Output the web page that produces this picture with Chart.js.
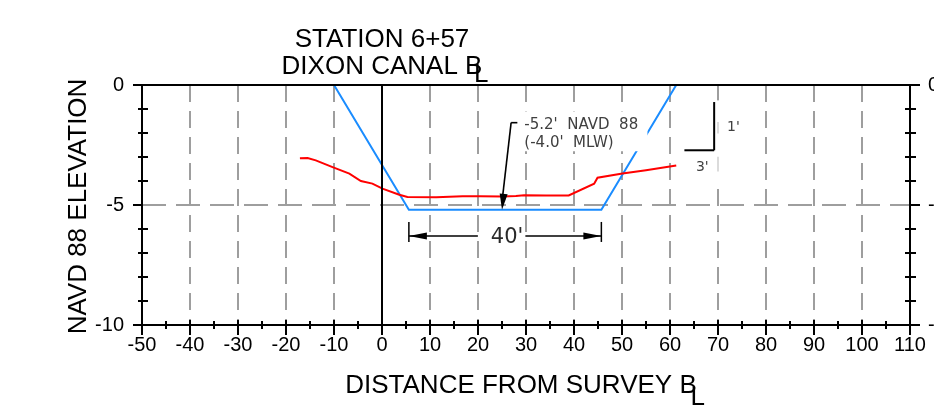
<!DOCTYPE html>
<html>
<head>
<meta charset="utf-8">
<script src="https://cdn.jsdelivr.net/npm/chart.js@4.4.0/dist/chart.umd.min.js"></script>
<style>
    html, body { margin: 0; padding: 0; background: #fff; }
    #wrap { width: 934px; height: 407px; }
</style>
</head>
<body>
<div id="wrap"><canvas id="section" width="934" height="407"></canvas></div>
<script>
// Cross section, station 6+57, Dixon Canal

// existing ground (red)
const groundX = [-17.1, -15.5, -13.8, -10.3, -6.8, -4.4, -2.0, 0.1, 3.6, 5.3, 11.3, 16.8, 20.4, 25.1, 27.9, 29.6, 34.2, 38.9, 44.2, 44.9, 50.1, 55.0, 61.3];
const groundY = [-3.05, -3.04, -3.14, -3.42, -3.69, -4.00, -4.11, -4.32, -4.57, -4.67, -4.68, -4.64, -4.64, -4.65, -4.62, -4.59, -4.60, -4.60, -4.11, -3.86, -3.69, -3.55, -3.35];

// design channel (blue), 40' bottom at -5.2, 3:1 side slopes
const designX = [-10.0, 5.6, 45.7, 61.3];
const designY = [0, -5.2, -5.2, 0];

// tick labels
const xLabels = [-50, -40, -30, -20, -10, 0, 10, 20, 30, 40, 50, 60, 70, 80, 90, 100, 110];
const yLabels = [0, -5, -10];

// texts
const titleLines = ['STATION 6+57', 'DIXON CANAL '];
const xTitle = 'DISTANCE FROM SURVEY ';
const yTitle = 'NAVD 88 ELEVATION';
const noteLines = ["-5.2'  NAVD  88", "(-4.0'  MLW)"];
const bottomElev = -5.2;
const noteAt = 25;
const widthLabel = "40'";
const slopeLabels = ["1'", "3'"];

const FONT = '"Liberation Sans", Arial, sans-serif';
const NOTE_FONT = '"DejaVu Sans", sans-serif';
const gridGray = '#9e9e9e';
const clear = 'rgba(0,0,0,0)';

function line(ctx, x1, y1, x2, y2) {
    ctx.beginPath();
    ctx.moveTo(x1, y1);
    ctx.lineTo(x2, y2);
    ctx.stroke();
}

function arrowHead(ctx, tipX, tipY, fromX, fromY, len, half) {
    const a = Math.atan2(tipY - fromY, tipX - fromX);
    const bx = tipX - len * Math.cos(a);
    const by = tipY - len * Math.sin(a);
    ctx.beginPath();
    ctx.moveTo(tipX, tipY);
    ctx.lineTo(bx + half * Math.sin(a), by - half * Math.cos(a));
    ctx.lineTo(bx - half * Math.sin(a), by + half * Math.cos(a));
    ctx.closePath();
    ctx.fill();
}

// centreline mark: a B with an L laid over it
function clMark(ctx, x, y, dx, dy) {
    ctx.textAlign = 'left';
    ctx.fillText('B', x, y);
    ctx.fillText('L', x + dx, y + dy);
}

const sectionFrame = {
    id: 'sectionFrame',
    afterDatasetsDraw(chart) {
        const { ctx, chartArea: a } = chart;
        const x = chart.scales.x;
        const y = chart.scales.y;
        const px = v => x.getPixelForValue(v);
        const py = v => y.getPixelForValue(v);
        ctx.save();

        // knock-outs behind the notes
        ctx.fillStyle = '#fff';
        ctx.fillRect(px(28.6), py(-1.10), px(55.3) - px(28.6), py(-2.76) - py(-1.10));
        ctx.fillRect(px(69.4), py(-0.64), px(70.7) - px(69.4), py(-4.05) - py(-0.64));
        ctx.strokeStyle = '#cfcfcf';
        ctx.lineWidth = 1.5;
        line(ctx, px(70), py(-1.54), px(70), py(-2.02));
        line(ctx, px(70), py(-2.99), px(70), py(-3.6));

        // frame, centreline and ticks
        ctx.strokeStyle = '#000';
        ctx.lineWidth = 2;
        line(ctx, a.left - 9, a.top, a.right + 10, a.top);
        line(ctx, a.left - 9, a.bottom, a.right + 10, a.bottom);
        line(ctx, a.left, a.top, a.left, a.bottom);
        line(ctx, a.right, a.top, a.right, a.bottom);
        line(ctx, px(0), a.top, px(0), a.bottom + 10);
        y.ticks.forEach(t => {
            const p = py(t.value);
            if (t.value % 5 === 0) {
                line(ctx, a.left - 9, p, a.left, p);
                line(ctx, a.right, p, a.right + 10, p);
            } else {
                line(ctx, a.left - 4, p, a.left + 6, p);
                line(ctx, a.right - 5, p, a.right + 6, p);
            }
        });
        x.ticks.forEach(t => {
            const p = px(t.value);
            if (t.value % 10 === 0) line(ctx, p, a.bottom - 5, p, a.bottom + 10);
            else line(ctx, p, a.bottom - 4, p, a.bottom + 4);
        });

        // leader to channel bottom
        const tipX = px(noteAt), tipY = py(bottomElev);
        const topX = px(26.9), topY = py(-1.57);
        ctx.lineWidth = 1.6;
        line(ctx, topX, topY, px(28.2), topY);
        line(ctx, topX, topY, tipX, tipY - 8);
        ctx.fillStyle = '#000';
        arrowHead(ctx, tipX, tipY, topX, topY, 16, 4);

        ctx.fillStyle = '#404040';
        ctx.font = '15px ' + NOTE_FONT;
        ctx.textAlign = 'left';
        ctx.textBaseline = 'alphabetic';
        ctx.fillText(noteLines[0], px(29.65), py(-1.82));
        ctx.fillText(noteLines[1], px(29.65), py(-2.58));

        // bottom width dimension
        const dy = py(-6.29);
        const dl = px(designX[1]), dr = px(designX[2]);
        ctx.strokeStyle = '#000';
        ctx.lineWidth = 1.5;
        line(ctx, dl, dy - 14, dl, dy + 6);
        line(ctx, dr, dy - 14, dr, dy + 6);
        ctx.font = '21px ' + NOTE_FONT;
        const tw = ctx.measureText(widthLabel).width;
        const tx = (dl + dr) / 2 + 2 - tw / 2;
        line(ctx, dl, dy, tx - 13, dy);
        line(ctx, tx + tw + 2, dy, dr, dy);
        ctx.fillStyle = '#000';
        arrowHead(ctx, dl, dy, dr, dy, 18, 3.5);
        arrowHead(ctx, dr, dy, dl, dy, 18, 3.5);
        ctx.fillStyle = '#2a2a2a';
        ctx.fillText(widthLabel, tx, dy + 7);

        // slope symbol
        ctx.strokeStyle = '#000';
        ctx.lineWidth = 2;
        line(ctx, px(69.2), py(-0.71), px(69.2), py(-2.72));
        line(ctx, px(63.0), py(-2.72), px(69.2), py(-2.72));
        ctx.fillStyle = '#404040';
        ctx.font = '14px ' + NOTE_FONT;
        ctx.textBaseline = 'middle';
        ctx.fillText(slopeLabels[0], px(71.9), py(-1.75));
        ctx.fillText(slopeLabels[1], px(65.4), py(-3.42));

        // titles
        ctx.fillStyle = '#000';
        ctx.textBaseline = 'alphabetic';
        ctx.font = '26px ' + FONT;
        ctx.textAlign = 'center';
        ctx.fillText(titleLines[0], px(0), a.top - 38);
        const w2 = ctx.measureText(titleLines[1] + 'B').width;
        const s2 = px(0) - w2 / 2;
        ctx.textAlign = 'left';
        ctx.fillText(titleLines[1], s2, a.top - 10.7);
        clMark(ctx, s2 + ctx.measureText(titleLines[1]).width, a.top - 10.7, 9, 8);

        const w3 = ctx.measureText(xTitle + 'B').width;
        const s3 = 521 - w3 / 2;
        ctx.fillText(xTitle, s3, 393.3);
        clMark(ctx, s3 + ctx.measureText(xTitle).width, 393.3, 11, 12);

        ctx.translate(86, 206.5);
        ctx.rotate(-Math.PI / 2);
        ctx.textAlign = 'center';
        ctx.fillText(yTitle, 0, 0);
        ctx.restore();
    }
};

const tickFont = { family: FONT, size: 20 };

new Chart(document.getElementById('section'), {
    type: 'line',
    data: {
        datasets: [
            {
                label: 'Existing ground',
                data: groundX.map((v, i) => ({ x: v, y: groundY[i] })),
                borderColor: '#ff0000',
                borderWidth: 2,
                pointRadius: 0,
                fill: false
            },
            {
                label: 'Design section',
                data: designX.map((v, i) => ({ x: v, y: designY[i] })),
                borderColor: '#1a8cff',
                borderWidth: 2,
                pointRadius: 0,
                fill: false
            }
        ]
    },
    options: {
        responsive: false,
        animation: false,
        events: [],
        layout: { padding: { top: 85, left: 0, right: 0, bottom: 0 } },
        plugins: {
            legend: { display: false },
            tooltip: { enabled: false },
            title: { display: false }
        },
        scales: {
            x: {
                type: 'linear',
                min: -50,
                max: 110,
                afterFit: s => { s.height = 82; },
                border: { display: false, dash: [17, 9] },
                grid: {
                    drawTicks: false,
                    lineWidth: 2,
                    color: c => {
                        const v = c.tick ? c.tick.value : NaN;
                        return (v % 10 === 0 && v !== 0 && v > -50 && v < 110) ? gridGray : clear;
                    }
                },
                ticks: {
                    stepSize: 5,
                    autoSkip: false,
                    maxRotation: 0,
                    padding: 8,
                    color: '#000',
                    font: tickFont,
                    callback: v => xLabels.includes(v) ? String(v) : ''
                }
            },
            y: {
                type: 'linear',
                position: 'left',
                min: -10,
                max: 0,
                afterFit: s => { s.width = 142; },
                border: { display: false, dash: [24, 10] },
                grid: {
                    drawTicks: false,
                    lineWidth: 2,
                    color: c => (c.tick && c.tick.value === -5) ? gridGray : clear
                },
                ticks: {
                    stepSize: 1,
                    autoSkip: false,
                    padding: 18,
                    color: '#000',
                    font: tickFont,
                    callback: v => yLabels.includes(v) ? String(v) : ''
                }
            },
            y2: {
                type: 'linear',
                position: 'right',
                min: -10,
                max: 0,
                afterFit: s => { s.width = 24; },
                border: { display: false },
                grid: { display: false, drawTicks: false },
                ticks: {
                    stepSize: 1,
                    autoSkip: false,
                    padding: 18,
                    color: '#000',
                    font: tickFont,
                    callback: v => yLabels.includes(v) ? String(v) : ''
                }
            }
        }
    },
    plugins: [sectionFrame]
});
</script>
</body>
</html>
